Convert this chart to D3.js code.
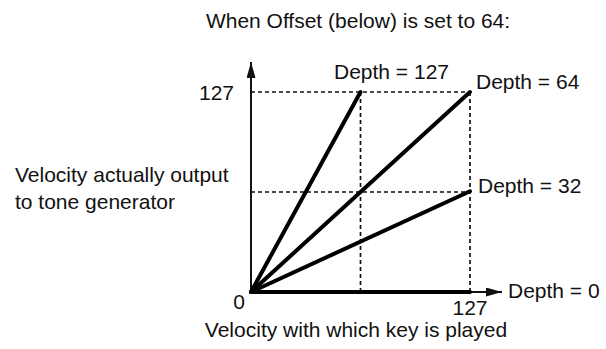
<!DOCTYPE html>
<html>
<head>
<meta charset="utf-8">
<script src="https://cdn.jsdelivr.net/npm/d3@7"></script>
<style>
  body { margin: 0; background: #fff; }
  text { font-family: "Liberation Sans", Arial, sans-serif; font-size: 21px; fill: #111; }
</style>
</head>
<body>
<script>
// Chart data
var depthNames = ["Depth = 127", "Depth = 64", "Depth = 32", "Depth = 0"];
var endVelocityIn = [64, 127, 127, 127];
var endVelocityOut = [127, 127, 64, 0];
var tickValues = [0, 127];
var guideValues = [64, 127];

var svgWidth = 606;
var svgHeight = 349;

var margin = { top: 92, left: 251 };
var chartWidth = 219;
var chartHeight = 200;

var svg = d3.select("body")
  .append("svg")
  .attr("width", svgWidth)
  .attr("height", svgHeight);

var chartGroup = svg.append("g")
  .attr("transform", `translate(${margin.left}, ${margin.top})`);

var xScale = d3.scaleLinear().domain([0, 127]).range([0, chartWidth]);
var yScale = d3.scaleLinear().domain([0, 127]).range([chartHeight, 0]);

// dashed guides
chartGroup.selectAll(".vguide")
  .data(guideValues)
  .enter()
  .append("line")
  .attr("x1", d => xScale(d - 0.5 * (d < 127)))
  .attr("x2", d => xScale(d - 0.5 * (d < 127)))
  .attr("y1", yScale(127))
  .attr("y2", yScale(0))
  .attr("stroke", "#111")
  .attr("stroke-width", 1.7)
  .attr("stroke-dasharray", "4,3");

chartGroup.selectAll(".hguide")
  .data(guideValues)
  .enter()
  .append("line")
  .attr("x1", xScale(0))
  .attr("x2", xScale(127))
  .attr("y1", d => yScale(d - 0.5 * (d < 127)))
  .attr("y2", d => yScale(d - 0.5 * (d < 127)))
  .attr("stroke", "#111")
  .attr("stroke-width", 1.7)
  .attr("stroke-dasharray", "4,3");

// arrow heads
var defs = svg.append("defs");
defs.append("marker")
  .attr("id", "arrow")
  .attr("viewBox", "0 0 16 9")
  .attr("refX", 16)
  .attr("refY", 4.5)
  .attr("markerWidth", 16)
  .attr("markerHeight", 9)
  .attr("markerUnits", "userSpaceOnUse")
  .attr("orient", "auto")
  .append("path")
  .attr("d", "M0,0 L16,4.5 L0,9 Z")
  .attr("fill", "#111");

// axes
chartGroup.append("line")
  .attr("x1", xScale(0))
  .attr("x2", xScale(0))
  .attr("y1", yScale(0))
  .attr("y2", -30)
  .attr("stroke", "#111")
  .attr("stroke-width", 2)
  .attr("marker-end", "url(#arrow)");

chartGroup.append("line")
  .attr("x1", xScale(0))
  .attr("x2", chartWidth + 32)
  .attr("y1", yScale(0))
  .attr("y2", yScale(0))
  .attr("stroke", "#111")
  .attr("stroke-width", 2)
  .attr("marker-end", "url(#arrow)");

// depth lines
chartGroup.selectAll(".depth")
  .data(depthNames)
  .enter()
  .append("line")
  .attr("class", "depth")
  .attr("x1", xScale(0))
  .attr("y1", yScale(0))
  .attr("x2", (d, i) => xScale(endVelocityIn[i] - 0.5 * (endVelocityIn[i] < 127)))
  .attr("y2", (d, i) => yScale(endVelocityOut[i]))
  .attr("stroke", "#000")
  .attr("stroke-width", 4)
  .attr("stroke-linecap", "round");

// depth labels
var labelPos = [[83, -13], [225, -3], [227, 101], [257, 206]];
chartGroup.selectAll(".dlabel")
  .data(depthNames)
  .enter()
  .append("text")
  .attr("x", (d, i) => labelPos[i][0])
  .attr("y", (d, i) => labelPos[i][1])
  .text(d => d);

// tick labels
chartGroup.append("text")
  .attr("x", -17)
  .attr("y", yScale(127) + 7.5)
  .attr("text-anchor", "end")
  .text(tickValues[1]);

chartGroup.append("text")
  .attr("x", -12)
  .attr("y", yScale(0) + 17)
  .attr("text-anchor", "middle")
  .text(tickValues[0]);

chartGroup.append("text")
  .attr("x", xScale(127))
  .attr("y", yScale(0) + 23)
  .attr("text-anchor", "middle")
  .text(tickValues[1]);

// titles
svg.append("text")
  .attr("x", 358)
  .attr("y", 28)
  .attr("text-anchor", "middle")
  .text("When Offset (below) is set to 64:");

svg.append("text")
  .attr("x", 15)
  .attr("y", 182)
  .text("Velocity actually output");

svg.append("text")
  .attr("x", 15)
  .attr("y", 209)
  .text("to tone generator");

svg.append("text")
  .attr("x", 356)
  .attr("y", 337)
  .attr("text-anchor", "middle")
  .text("Velocity with which key is played");
</script>
</body>
</html>
